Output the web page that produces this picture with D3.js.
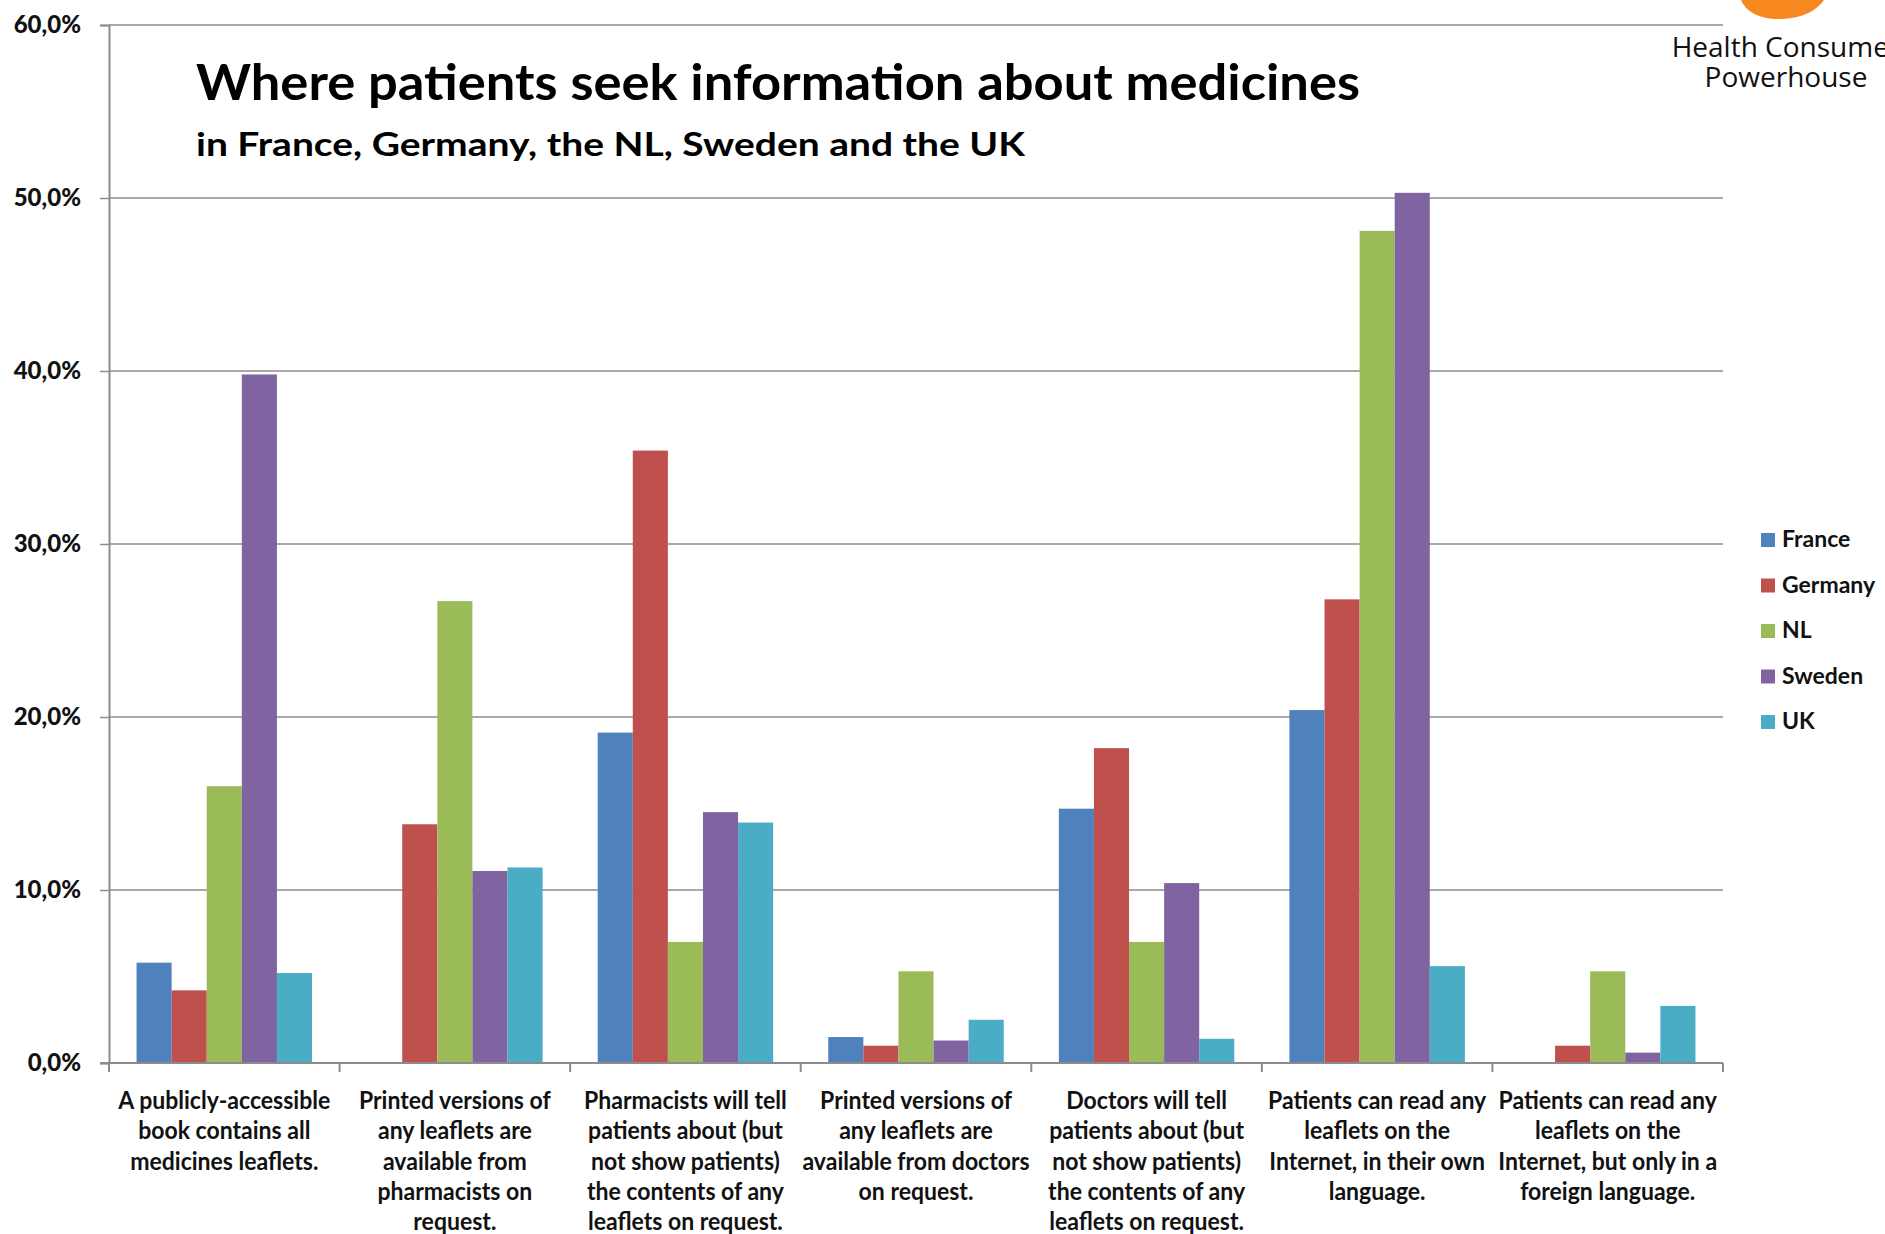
<!DOCTYPE html>
<html>
<head>
<meta charset="utf-8">
<script src="https://cdn.jsdelivr.net/npm/d3@7"></script>
<style>
  body { margin: 0; background: #fff; }
  svg { display: block; }
</style>
</head>
<body>
<svg id="svg" width="1885" height="1234"></svg>
<script>
// categories (x axis labels, split into lines like the original)
let categories = [
    ["A publicly-accessible", "book contains all", "medicines leaflets."],
    ["Printed versions of", "any leaflets are", "available from", "pharmacists on", "request."],
    ["Pharmacists will  tell", "patients about (but", "not show patients)", "the contents of any", "leaflets on request."],
    ["Printed versions of", "any leaflets are", "available from doctors", "on request."],
    ["Doctors will tell", "patients about (but", "not show patients)", "the contents of any", "leaflets on request."],
    ["Patients can read any", "leaflets on the", "Internet, in their own", "language."],
    ["Patients can read any", "leaflets on the", "Internet, but only in a", "foreign language."]
];

let seriesNames = ["France", "Germany", "NL", "Sweden", "UK"];
let seriesColors = ["#4F81BD", "#C0504D", "#9BBB59", "#8064A2", "#4BACC6"];

// percent values per category
let france  = [5.8, 0, 19.1, 1.5, 14.7, 20.4, 0];
let germany = [4.2, 13.8, 35.4, 1.0, 18.2, 26.8, 1.0];
let nl      = [16.0, 26.7, 7.0, 5.3, 7.0, 48.1, 5.3];
let sweden  = [39.8, 11.1, 14.5, 1.3, 10.4, 50.3, 0.6];
let uk      = [5.2, 11.3, 13.9, 2.5, 1.4, 5.6, 3.3];

let yTicks = [0, 10, 20, 30, 40, 50, 60];

let seriesValues = [france, germany, nl, sweden, uk];

let plotLeft = 109, plotRight = 1723, plotTop = 25, plotBottom = 1063;

let svg = d3.select("#svg");

let catIdx = categories.map((c, i) => i);

let x0 = d3.scaleBand().domain(catIdx).range([plotLeft, plotRight]);
let x1 = d3.scaleBand().domain(seriesNames).range([0, x0.bandwidth()]).paddingOuter(0.785);
let y = d3.scaleLinear().domain([0, 60]).range([plotBottom, plotTop]);

// gridlines
svg.append("g")
    .selectAll("line")
    .data(yTicks.filter(d => d > 0))
    .enter()
    .append("line")
    .attr("x1", plotLeft)
    .attr("x2", plotRight)
    .attr("y1", d => y(d))
    .attr("y2", d => y(d))
    .style("stroke", "#8c8c8c")
    .style("stroke-width", 1.5);

// bars
let rows = [];
for (let i = 0; i < categories.length; i++) {
    for (let s = 0; s < seriesNames.length; s++) {
        rows.push({cat: i, series: seriesNames[s], color: seriesColors[s], value: seriesValues[s][i]});
    }
}

svg.append("g")
    .selectAll("rect")
    .data(rows.filter(d => d.value > 0))
    .enter()
    .append("rect")
    .attr("x", d => x0(d.cat) + x1(d.series))
    .attr("width", x1.bandwidth())
    .attr("y", d => y(d.value))
    .attr("height", d => y(0) - y(d.value))
    .style("fill", d => d.color);

// y axis
let yAxis = d3.axisLeft(y)
    .tickValues(yTicks)
    .tickSize(9)
    .tickPadding(19)
    .tickFormat(d => d.toFixed(1).replace(".", ",") + "%");

let gy = svg.append("g")
    .attr("transform", `translate(${plotLeft},0)`)
    .call(yAxis);
gy.select(".domain").style("stroke", "#8c8c8c").style("stroke-width", 2);
gy.selectAll(".tick line").style("stroke", "#8c8c8c").style("stroke-width", 1.5);
gy.selectAll(".tick text")
    .style("font-family", "Lato, 'Open Sans', sans-serif")
    .style("font-weight", "900")
    .style("font-size", "24px")
    .style("fill", "#111");

// x axis line + ticks at category boundaries
let xAxisG = svg.append("g");
xAxisG.append("line")
    .attr("x1", plotLeft - 9)
    .attr("x2", plotRight)
    .attr("y1", plotBottom)
    .attr("y2", plotBottom)
    .style("stroke", "#8c8c8c")
    .style("stroke-width", 2);
let bounds = catIdx.map(i => x0(i)).concat([plotRight]);
xAxisG.selectAll("line.tk")
    .data(bounds)
    .enter()
    .append("line")
    .attr("class", "tk")
    .attr("x1", d => d)
    .attr("x2", d => d)
    .attr("y1", plotBottom)
    .attr("y2", plotBottom + 9)
    .style("stroke", "#8c8c8c")
    .style("stroke-width", 2);

// category labels (condensed like the original Calibri)
let catLabels = svg.append("g");
let labelGroups = [];
categories.forEach((lines, i) => {
    let g = catLabels.append("g")
        .attr("transform", `translate(${x0(i) + x0.bandwidth() / 2},0)`);
    let t = g.append("text")
        .attr("text-anchor", "middle")
        .style("font-family", "Lato, sans-serif")
        .style("font-weight", "bold")
        .style("font-size", "24px")
        .style("fill", "#111");
    lines.forEach((ln, k) => {
        t.append("tspan")
            .attr("x", 0)
            .attr("y", 1109 + k * 30.3)
            .text(ln);
    });
    labelGroups.push(g);
});
// squeeze so that the first line matches the original width
let refW = labelGroups[0].select("tspan").node().getComputedTextLength();
let sx = Math.min(1, 212 / refW);
labelGroups.forEach((g, i) => {
    g.attr("transform", `translate(${x0(i) + x0.bandwidth() / 2},0) scale(${sx},1)`);
});

// title
svg.append("text")
    .attr("x", 196)
    .attr("y", 100)
    .attr("textLength", 1164)
    .attr("lengthAdjust", "spacingAndGlyphs")
    .style("font-family", "Lato, sans-serif")
    .style("font-weight", "bold")
    .style("font-size", "49px")
    .style("fill", "#000")
    .text("Where patients seek information about medicines");

svg.append("text")
    .attr("x", 196)
    .attr("y", 156)
    .attr("textLength", 829)
    .attr("lengthAdjust", "spacingAndGlyphs")
    .style("font-family", "Lato, sans-serif")
    .style("font-weight", "bold")
    .style("font-size", "32px")
    .style("fill", "#000")
    .text("in France, Germany, the NL, Sweden and the UK");

// legend
let legend = svg.append("g")
    .selectAll("g")
    .data(seriesNames)
    .enter()
    .append("g")
    .attr("transform", (d, i) => `translate(1761,${533 + i * 45.5})`);
legend.append("rect")
    .attr("width", 14)
    .attr("height", 14)
    .style("fill", (d, i) => seriesColors[i]);
legend.append("text")
    .attr("x", 21)
    .attr("y", 14)
    .style("font-family", "Lato, sans-serif")
    .style("font-weight", "bold")
    .style("font-size", "23px")
    .style("fill", "#111")
    .text(d => d);

// logo (top right, cut off by the frame)
svg.append("path")
    .attr("d", "M1741,0 C1747,14 1764,20 1783,19 C1803,18 1817,10 1824,0 Z")
    .style("fill", "#F7871F");
svg.append("text")
    .attr("x", 1786)
    .attr("y", 57)
    .attr("text-anchor", "middle")
    .style("font-family", "'Open Sans', sans-serif")
    .style("font-size", "28px")
    .style("fill", "#111")
    .text("Health Consumer");
svg.append("text")
    .attr("x", 1786)
    .attr("y", 87)
    .attr("text-anchor", "middle")
    .style("font-family", "'Open Sans', sans-serif")
    .style("font-size", "28px")
    .style("fill", "#111")
    .text("Powerhouse");
</script>
</body>
</html>
